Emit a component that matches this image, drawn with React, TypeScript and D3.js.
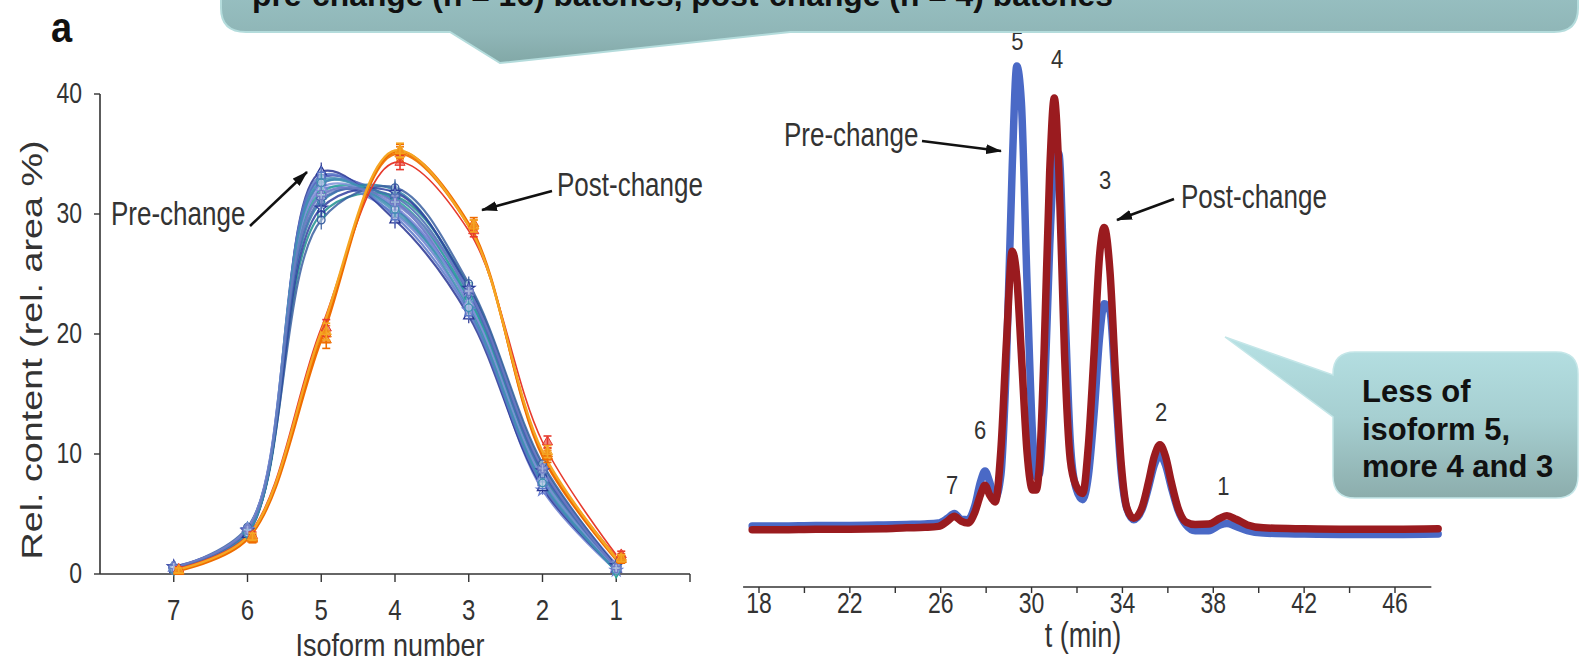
import React from "react";
import * as d3 from "d3";

// ---- panel a, left: relative content per isoform ----
const isoforms = [7, 6, 5, 4, 3, 2, 1];

// 16 pre-change batches
const preChange = [
  [0.5, 3.6, 33.0, 30.5, 23.0, 8.0, 0.5],
  [0.6, 3.4, 32.5, 31.0, 22.5, 7.5, 0.4],
  [0.4, 3.8, 31.0, 32.0, 23.5, 8.5, 0.6],
  [0.5, 3.5, 30.0, 31.5, 24.0, 9.0, 0.7],
  [0.6, 3.7, 32.0, 30.0, 22.0, 7.0, 0.3],
  [0.5, 3.3, 33.5, 29.5, 21.5, 7.2, 0.4],
  [0.4, 3.6, 31.5, 30.8, 23.2, 8.8, 0.8],
  [0.5, 3.9, 29.5, 32.2, 24.2, 9.2, 0.6],
  [0.6, 3.5, 32.8, 30.2, 22.8, 7.8, 0.5],
  [0.5, 3.4, 31.8, 31.2, 23.0, 8.2, 0.2],
  [0.4, 3.7, 33.2, 29.8, 21.8, 7.4, 0.4],
  [0.6, 3.6, 30.5, 31.8, 23.8, 8.6, 0.7],
  [0.5, 3.8, 32.2, 30.6, 22.6, 8.0, 0.5],
  [0.5, 3.5, 31.2, 31.4, 23.4, 8.4, 0.6],
  [0.4, 3.4, 32.6, 30.4, 22.2, 7.6, 0.3],
  [0.6, 3.7, 31.6, 31.0, 23.6, 8.8, 0.5],
];

// 4 post-change batches
const postChange = [
  [0.3, 3.0, 20.0, 35.0, 29.0, 10.0, 1.4],
  [0.4, 3.2, 20.5, 34.3, 28.6, 11.0, 1.6],
  [0.2, 2.9, 19.5, 35.2, 29.2, 9.8, 1.2],
  [0.3, 3.1, 20.2, 35.3, 29.0, 10.2, 1.3],
];

const preErr = [0.2, 0.3, 0.8, 0.7, 0.6, 0.4, 0.2];
const postErr = [0.2, 0.3, 0.7, 0.6, 0.5, 0.5, 0.3];

const preColors = [
  "#3f51b5", "#5c6bc0", "#2e7fa8", "#1f8f8f", "#6a7fd0", "#283593",
  "#7986cb", "#3a5fa0", "#4a90b8", "#26a69a", "#5a78c8", "#303f9f",
  "#8090d8", "#456bb0", "#3d8fb0", "#6d7bc4",
];
const postColors = ["#f07c10", "#e63a2e", "#ef6c00", "#f5a623"];

const leftYTicks = [0, 10, 20, 30, 40];
const leftXTicks = [7, 6, 5, 4, 3, 2, 1, 0];

// ---- panel b, right: chromatogram ----
const times = [
  17.7, 19, 20.5, 22, 23.5, 24.5, 25.3, 25.9, 26.3, 26.6, 26.9, 27.2, 27.5,
  27.75, 27.95, 28.15, 28.4, 28.65, 28.9, 29.15, 29.35, 29.55, 29.8, 30.05,
  30.2, 30.35, 30.55, 30.8, 31.0, 31.2, 31.45, 31.7, 31.95, 32.25, 32.5,
  32.75, 33.0, 33.2, 33.45, 33.7, 33.95, 34.2, 34.5, 34.85, 35.15, 35.4,
  35.65, 35.9, 36.15, 36.45, 36.8, 37.2, 37.8, 38.3, 38.6, 39.0, 39.5, 40.2,
  42, 44, 46, 47.9,
];
const preTrace = [
  4.0, 4.0, 4.1, 4.1, 4.2, 4.3, 4.4, 4.6, 5.6, 6.6, 5.4, 5.3, 8.2, 13.2,
  15.5, 13.3, 9.8, 14.7, 39.3, 79.5, 100.3, 92.8, 54.9, 22.4, 14.2, 14.9,
  29.0, 62.8, 80.0, 82.0, 52.0, 22.0, 12.0, 9.5, 14.5, 27.4, 43.8, 50.5,
  49.0, 32.0, 15.0, 7.5, 5.3, 7.3, 12.1, 16.7, 18.8, 16.7, 12.1, 7.3, 4.2,
  3.0, 3.0, 4.2, 4.5, 3.9, 3.0, 2.5, 2.3, 2.2, 2.2, 2.3,
];
const postTrace = [
  3.2, 3.2, 3.3, 3.3, 3.4, 3.6, 3.7, 3.9, 5.0, 6.0, 5.0, 4.6, 6.8, 10.5,
  12.5, 10.5, 9.0, 20.0, 43.0, 61.5, 56.0, 40.0, 19.5, 11.5, 11.5, 17.0,
  40.2, 78.5, 93.6, 78.5, 40.1, 18.0, 12.5, 10.8, 20.8, 40.0, 61.0, 66.5,
  57.4, 35.3, 16.8, 7.7, 5.6, 7.7, 13.2, 18.5, 21.0, 18.5, 13.2, 7.7, 4.8,
  4.3, 4.4, 5.6, 6.1, 5.4, 4.2, 3.6, 3.4, 3.3, 3.3, 3.4,
];
const timeLabels = [18, 22, 26, 30, 34, 38, 42, 46];
const timeMinor = [20, 24, 28, 32, 36, 40, 44];
const peakNames = ["7", "6", "5", "4", "3", "2", "1"];
const peakT = [26.5, 27.74, 29.37, 31.13, 33.24, 35.7, 38.44];
const peakV = [12.4, 23.9, 105.3, 101.6, 76.2, 27.6, 12.1];

const FONT = "'Liberation Sans', Arial, Helvetica, sans-serif";
const INK = "#333";

// chart text in the source figure is stretched vertically
const tall = (x: number, y: number, sy = 1.25) => `translate(${x},${y}) scale(1,${sy})`;

export default function App() {
  // left scales
  const xL = d3.scaleLinear().domain([8, 0]).range([100, 690]);
  const yL = d3.scaleLinear().domain([0, 40]).range([574, 94]);
  const lineL = d3
    .line<number>()
    .x((_, i) => xL(isoforms[i]))
    .y((d) => yL(d))
    .curve(d3.curveCatmullRom.alpha(0.5));

  // right scales
  const xR = d3.scaleLinear().domain([18, 46]).range([759, 1395]);
  const yR = d3.scaleLinear().domain([0, 100]).range([545, 67.5]);
  const lineR = d3
    .line<number>()
    .x((_, i) => xR(times[i]))
    .y((d) => yR(d))
    .curve(d3.curveMonotoneX);

  const sym = d3.symbol().size(45);
  const shapes = d3.symbolsFill;

  const axisR = 587;

  return (
    <svg
      width={1580}
      height={662}
      style={{ position: "absolute", left: 0, top: 0, background: "#fff" }}
      fontFamily={FONT}
    >
      <defs>
        <marker id="arr" viewBox="0 0 16 10" refX="15" refY="5" markerWidth="16" markerHeight="10" markerUnits="userSpaceOnUse" orient="auto">
          <path d="M0,0 L16,5 L0,10 z" fill="#111" />
        </marker>
        <linearGradient id="gTop" gradientUnits="userSpaceOnUse" x1="0" y1="-10" x2="0" y2="63">
          <stop offset="0" stopColor="#98c0c2" />
          <stop offset="0.6" stopColor="#8fb6b7" />
          <stop offset="1" stopColor="#82a8a7" />
        </linearGradient>
        <linearGradient id="gBot" gradientUnits="userSpaceOnUse" x1="0" y1="337" x2="0" y2="498">
          <stop offset="0" stopColor="#b6e1e4" />
          <stop offset="0.5" stopColor="#a6cfd1" />
          <stop offset="1" stopColor="#8cadac" />
        </linearGradient>
      </defs>

      <text transform={tall(51, 42, 1.1)} fontSize={38} fontWeight="bold" fill="#111">a</text>

      {/* ---------- left panel ---------- */}
      <line x1={100} x2={100} y1={yL(40)} y2={yL(0)} stroke={INK} strokeWidth={1.6} />
      <line x1={100} x2={xL(0)} y1={yL(0)} y2={yL(0)} stroke={INK} strokeWidth={1.6} />
      {leftYTicks.map((v) => (
        <g key={"ly" + v}>
          <line x1={94} x2={100} y1={yL(v)} y2={yL(v)} stroke={INK} strokeWidth={1.4} />
          <text transform={tall(82, yL(v) + 9)} fontSize={23} textAnchor="end" fill={INK}>{v}</text>
        </g>
      ))}
      {leftXTicks.map((v) => (
        <g key={"lx" + v}>
          <line x1={xL(v)} x2={xL(v)} y1={yL(0)} y2={yL(0) + 8} stroke={INK} strokeWidth={1.4} />
          {v > 0 && (
            <text transform={tall(xL(v), 620, 1.2)} fontSize={24} textAnchor="middle" fill={INK}>{v}</text>
          )}
        </g>
      ))}
      <text transform={tall(390, 656, 1.15)} fontSize={27} textAnchor="middle" fill={INK}>Isoform number</text>
      <text transform="translate(42,350) rotate(-90) scale(1.3,1)" fontSize={29} textAnchor="middle" fill={INK}>
        Rel. content (rel. area %)
      </text>

      {preChange.map((s, k) => (
        <path key={"pl" + k} d={lineL(s) || ""} fill="none" stroke={preColors[k]} strokeWidth={2.2} strokeOpacity={0.85} />
      ))}
      {postChange.map((s, k) => (
        <path key={"ql" + k} d={lineL(s) || ""} fill="none" stroke={postColors[k]} strokeWidth={k === 1 ? 1.6 : 2.4} />
      ))}
      {preChange.map((s, k) =>
        s.map((v, i) => (
          <g key={"pm" + k + "-" + i} transform={`translate(${xL(isoforms[i])},${yL(v)})`}>
            <line x1={0} x2={0} y1={yL(v + preErr[i]) - yL(v)} y2={yL(v - preErr[i]) - yL(v)} stroke={preColors[k]} strokeWidth={1.2} />
            <path d={sym.type(shapes[k % shapes.length])() || ""} fill="#dfe6f5" fillOpacity={0.5} stroke={preColors[k]} strokeWidth={1.3} />
          </g>
        ))
      )}
      {postChange.map((s, k) =>
        s.map((v, i) => (
          <g key={"qm" + k + "-" + i} transform={`translate(${xL(isoforms[i]) + 5},${yL(v)})`}>
            <line x1={0} x2={0} y1={yL(v + postErr[i]) - yL(v)} y2={yL(v - postErr[i]) - yL(v)} stroke={postColors[k]} strokeWidth={1.6} />
            <line x1={-4} x2={4} y1={yL(v + postErr[i]) - yL(v)} y2={yL(v + postErr[i]) - yL(v)} stroke={postColors[k]} strokeWidth={1.6} />
            <line x1={-4} x2={4} y1={yL(v - postErr[i]) - yL(v)} y2={yL(v - postErr[i]) - yL(v)} stroke={postColors[k]} strokeWidth={1.6} />
            <path d={sym.type(d3.symbolTriangle)() || ""} fill={postColors[k]} fillOpacity={0.6} stroke={postColors[k]} strokeWidth={1} />
          </g>
        ))
      )}

      <text transform={tall(111, 225)} fontSize={26} fill={INK}>Pre-change</text>
      <line x1={250} y1={226} x2={307} y2={172} stroke="#111" strokeWidth={2.6} markerEnd="url(#arr)" />
      <text transform={tall(557, 196)} fontSize={26} fill={INK}>Post-change</text>
      <line x1={552} y1={191} x2={482} y2={210} stroke="#111" strokeWidth={2.6} markerEnd="url(#arr)" />

      {/* ---------- right panel ---------- */}
      <line x1={xR(17.3)} x2={xR(47.6)} y1={axisR} y2={axisR} stroke={INK} strokeWidth={1.6} />
      {timeLabels.map((t) => (
        <g key={"tl" + t}>
          <line x1={xR(t)} x2={xR(t)} y1={axisR} y2={axisR + 6} stroke={INK} strokeWidth={1.4} />
          <text transform={tall(xR(t), 613)} fontSize={23} textAnchor="middle" fill={INK}>{t}</text>
        </g>
      ))}
      {timeMinor.map((t) => (
        <line key={"tm" + t} x1={xR(t)} x2={xR(t)} y1={axisR} y2={axisR + 6} stroke={INK} strokeWidth={1.4} />
      ))}
      <text transform={tall(1083, 647, 1.3)} fontSize={27} textAnchor="middle" fill={INK}>t (min)</text>

      <path d={lineR(preTrace) || ""} fill="none" stroke="#4a69c6" strokeWidth={7.5} strokeLinejoin="round" strokeLinecap="round" />
      <path d={lineR(postTrace) || ""} fill="none" stroke="#9a1b1f" strokeWidth={7.5} strokeLinejoin="round" strokeLinecap="round" />

      {peakNames.map((n, i) => (
        <text key={"pk" + n} transform={tall(xR(peakT[i]), yR(peakV[i]) + 8, 1.15)} fontSize={22} textAnchor="middle" fill={INK}>
          {n}
        </text>
      ))}

      <text transform={tall(784, 146)} fontSize={26} fill={INK}>Pre-change</text>
      <line x1={922} y1={141} x2={1001} y2={151} stroke="#111" strokeWidth={2.6} markerEnd="url(#arr)" />
      <text transform={tall(1181, 208)} fontSize={26} fill={INK}>Post-change</text>
      <line x1={1174} y1={199} x2={1117} y2={220} stroke="#111" strokeWidth={2.6} markerEnd="url(#arr)" />

      {/* ---------- callouts ---------- */}
      <path
        d="M221,-60 L1578,-60 L1578,8 Q1578,32 1554,32 L790,32 L500,63 L450,32 L246,32 Q221,32 221,8 Z"
        fill="url(#gTop)"
        stroke="#b4dcdc"
        strokeWidth={2}
      />
      <text x={252} y={6} fontSize={31} fontWeight="bold" fill="#111" textLength={861} lengthAdjust="spacingAndGlyphs">
        pre-change (n = 16) batches, post-change (n = 4) batches
      </text>

      <path
        d="M1355,352 L1556,352 Q1578,352 1578,374 L1578,476 Q1578,498 1556,498 L1355,498 Q1333,498 1333,476 L1333,417 L1225,337 L1333,375 L1333,374 Q1333,352 1355,352 Z"
        fill="url(#gBot)"
        stroke="#c4e6e8"
        strokeWidth={1.5}
      />
      <text fontSize={31} fontWeight="bold" fill="#111">
        <tspan x={1362} y={402}>Less of</tspan>
        <tspan x={1362} y={440}>isoform 5,</tspan>
        <tspan x={1362} y={477}>more 4 and 3</tspan>
      </text>
    </svg>
  );
}
